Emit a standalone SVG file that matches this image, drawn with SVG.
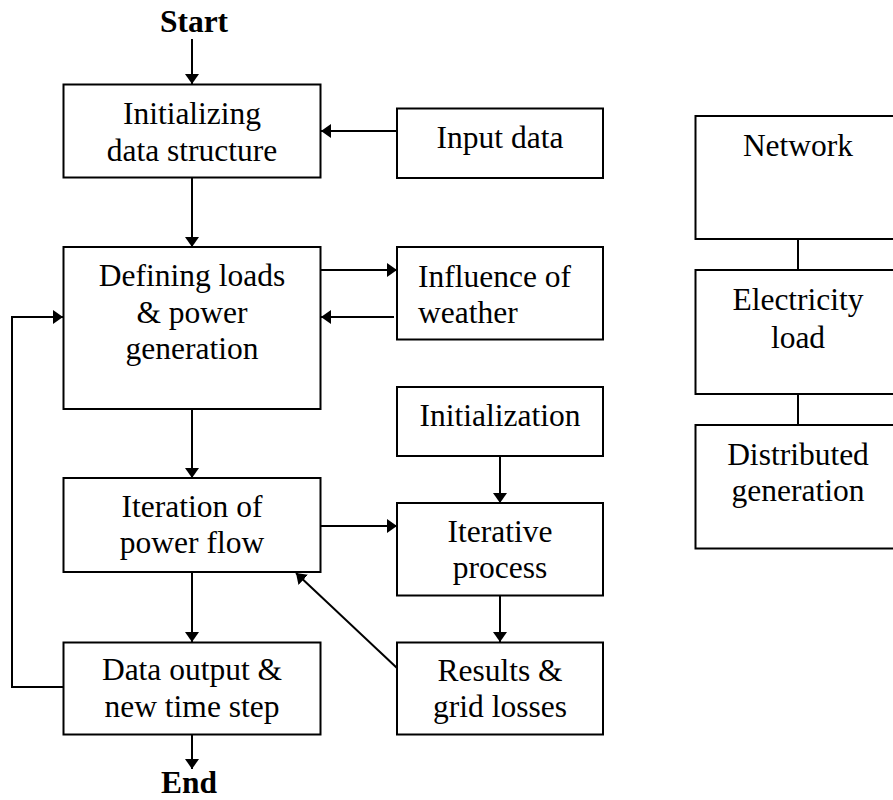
<svg xmlns="http://www.w3.org/2000/svg" width="893" height="800" viewBox="0 0 893 800">
<defs>
<style>
.box{fill:#fff;stroke:#000;stroke-width:2}
.t{font-family:'Liberation Serif','Times New Roman',Tinos,'Nimbus Roman','DejaVu Serif',serif;font-size:31.5px;fill:#000;text-anchor:middle}
.b{font-weight:bold}
.l{text-anchor:start}
.c{fill:none;stroke:#000;stroke-width:2}
</style>
<marker id="ah" markerUnits="userSpaceOnUse" markerWidth="11" markerHeight="14" refX="10" refY="7" orient="auto">
<path d="M0,0 L10,7 L0,14 z" fill="#000"/>
</marker>
</defs>
<rect width="893" height="800" fill="#fff"/>
<g id="connectors">
<line class="c" x1="192" y1="39" x2="192" y2="84" marker-end="url(#ah)"/>
<line class="c" x1="397" y1="131" x2="321" y2="131" marker-end="url(#ah)"/>
<line class="c" x1="192" y1="178" x2="192" y2="247" marker-end="url(#ah)"/>
<line class="c" x1="321" y1="270" x2="397" y2="270" marker-end="url(#ah)"/>
<line class="c" x1="394" y1="317" x2="321" y2="317" marker-end="url(#ah)"/>
<line class="c" x1="192" y1="409" x2="192" y2="478" marker-end="url(#ah)"/>
<line class="c" x1="321" y1="526" x2="397" y2="526" marker-end="url(#ah)"/>
<line class="c" x1="500" y1="456" x2="500" y2="503" marker-end="url(#ah)"/>
<line class="c" x1="500" y1="596" x2="500" y2="642" marker-end="url(#ah)"/>
<line class="c" x1="397" y1="668" x2="296" y2="573" marker-end="url(#ah)"/>
<line class="c" x1="192" y1="572" x2="192" y2="642" marker-end="url(#ah)"/>
<line class="c" x1="192" y1="734" x2="192" y2="769" marker-end="url(#ah)"/>
<polyline class="c" points="63,687 12,687 12,317 63,317" marker-end="url(#ah)"/>
<line class="c" x1="798" y1="239" x2="798" y2="270"/>
<line class="c" x1="798" y1="394" x2="798" y2="425"/>
</g>
<g id="start"><text class="t b" x="194" y="32">Start</text></g>
<g id="end"><text class="t b" x="189" y="793">End</text></g>
<g id="init-data">
<rect class="box" x="63.5" y="84.5" width="257" height="93"/>
<text class="t" x="192" y="124">Initializing</text>
<text class="t" x="192" y="161">data structure</text>
</g>
<g id="input-data">
<rect class="box" x="397" y="108.5" width="206" height="69.5"/>
<text class="t" x="500" y="148">Input data</text>
</g>
<g id="defining">
<rect class="box" x="63.5" y="247" width="257" height="162"/>
<text class="t" x="192" y="286">Defining loads</text>
<text class="t" x="192" y="322.5">&amp; power</text>
<text class="t" x="192" y="359">generation</text>
</g>
<g id="weather">
<rect class="box" x="397" y="247" width="206" height="92.5"/>
<text class="t l" x="418" y="286.5">Influence of</text>
<text class="t l" x="418" y="323">weather</text>
</g>
<g id="initialization">
<rect class="box" x="397" y="387" width="206" height="69"/>
<text class="t" x="500" y="425.5">Initialization</text>
</g>
<g id="iteration">
<rect class="box" x="63.5" y="478" width="257" height="94"/>
<text class="t" x="192" y="516.5">Iteration of</text>
<text class="t" x="192" y="553">power flow</text>
</g>
<g id="iterative">
<rect class="box" x="397" y="503" width="206" height="92.5"/>
<text class="t" x="500" y="541.5">Iterative</text>
<text class="t" x="500" y="578">process</text>
</g>
<g id="output">
<rect class="box" x="63.5" y="642.5" width="257" height="92"/>
<text class="t" x="192" y="680">Data output &amp;</text>
<text class="t" x="192" y="716.5">new time step</text>
</g>
<g id="results">
<rect class="box" x="397" y="642.5" width="206" height="92"/>
<text class="t" x="500" y="680.5">Results &amp;</text>
<text class="t" x="500" y="717">grid losses</text>
</g>
<g id="network">
<rect class="box" x="695.5" y="116" width="206" height="123"/>
<text class="t" x="798" y="156">Network</text>
</g>
<g id="electricity">
<rect class="box" x="695.5" y="270" width="206" height="124"/>
<text class="t" x="798" y="310">Electricity</text>
<text class="t" x="798" y="347.5">load</text>
</g>
<g id="distributed">
<rect class="box" x="695.5" y="425" width="206" height="123.5"/>
<text class="t" x="798" y="465">Distributed</text>
<text class="t" x="798" y="501">generation</text>
</g>
</svg>
